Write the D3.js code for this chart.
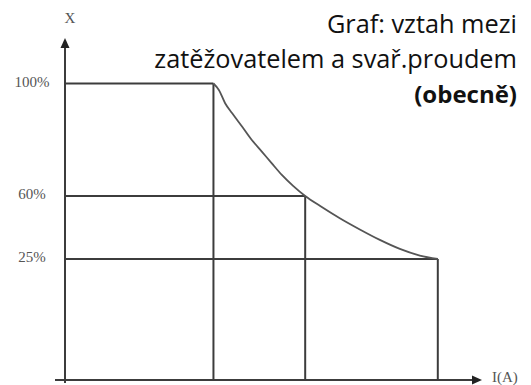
<!DOCTYPE html>
<html lang="cs">
<head>
    <meta charset="UTF-8">
    <title>Graf: vztah mezi zatěžovatelem a svař.proudem</title>
    <script src="https://d3js.org/d3.v7.min.js"></script>
    <style>
        body {
            margin: 0;
            background: #fff;
        }

        .title {
            font-family: "Open Sans", Lato, sans-serif;
            font-size: 25.3px;
            fill: #111;
            text-anchor: end;
        }

        .title.bold {
            font-weight: bold;
            font-size: 24px;
        }

        .tick-label, .axis-label {
            font-family: "Liberation Serif", "DejaVu Serif", serif;
            font-size: 15px;
            fill: #555;
        }

        .frame {
            fill: none;
            stroke: #3c3c3c;
            stroke-width: 2;
        }

        .curve {
            fill: none;
            stroke: #555;
            stroke-width: 1.8;
        }
    </style>
</head>
<body>
    <svg></svg>

    <script>
        // duty cycle levels (X) and their labels
        const dutyLevels = [100, 60, 25];
        const dutyLabels = ["100%", "60%", "25%"];
        // welding current belonging to each level (relative units, 0-100 = axis length)
        const currents = [35.6, 57.6, 89.4];

        // points along the curve X = f(I)
        const curveI = [35.6, 36.9, 38.4, 40.1, 42.5, 44.8, 47.2, 49.6, 52.0, 54.7, 57.6,
                        61.2, 66.0, 70.7, 75.5, 80.3, 85.1, 89.4];
        const curveX = [100, 97.7, 93.0, 89.4, 84.6, 79.9, 75.8, 71.6, 67.5, 63.6, 60,
                        54.4, 47.5, 41.4, 35.6, 30.6, 26.9, 25];

        const titleLines = ["Graf: vztah mezi", "zatěžovatelem a svař.proudem", "(obecně)"];
        const yAxisName = "X";
        const xAxisName = "I(A)";

        const width = 531, height = 385;

        const svg = d3.select("svg")
            .attr("width", width)
            .attr("height", height);

        // schematic chart: y is not evenly spaced, so a piecewise scale is used
        const x = d3.scaleLinear().domain([0, 100]).range([65, 482]);
        const y = d3.scaleLinear()
            .domain([0, 25, 60, 100, 120])
            .range([380, 259, 196, 83.5, 38]);

        // axes with arrow heads
        svg.append("line")
            .attr("class", "frame")
            .attr("x1", x(0)).attr("x2", x(0))
            .attr("y1", y(0) + 3).attr("y2", y(120) + 8);

        svg.append("line")
            .attr("class", "frame")
            .attr("x1", x(0) - 10).attr("x2", x(100) - 8)
            .attr("y1", y(0)).attr("y2", y(0));

        svg.append("path")
            .attr("d", `M${x(0)},${y(120)} L${x(0) - 4.5},${y(120) + 10} L${x(0) + 4.5},${y(120) + 10} Z`)
            .attr("fill", "#222");

        svg.append("path")
            .attr("d", `M${x(100)},${y(0)} L${x(100) - 10},${y(0) - 4.5} L${x(100) - 10},${y(0) + 4.5} Z`)
            .attr("fill", "#222");

        // horizontal guides from the axis to the curve
        svg.selectAll(".hguide")
            .data(dutyLevels)
            .enter().append("line")
            .attr("class", "frame hguide")
            .attr("x1", x(0))
            .attr("x2", (d, i) => x(currents[i]))
            .attr("y1", d => y(d))
            .attr("y2", d => y(d));

        // vertical guides from the curve down to the axis
        svg.selectAll(".vguide")
            .data(currents)
            .enter().append("line")
            .attr("class", "frame vguide")
            .attr("x1", d => x(d))
            .attr("x2", d => x(d))
            .attr("y1", (d, i) => y(dutyLevels[i]))
            .attr("y2", y(0));

        // the curve itself
        const curveData = curveI.map((d, i) => ({ I: d, X: curveX[i] }));
        svg.append("path")
            .datum(curveData)
            .attr("class", "curve")
            .attr("d", d3.line()
                .x(d => x(d.I))
                .y(d => y(d.X))
                .curve(d3.curveMonotoneX));

        // tick labels on the left
        svg.selectAll(".tick-label")
            .data(dutyLevels)
            .enter().append("text")
            .attr("class", "tick-label")
            .attr("x", 32)
            .attr("y", d => y(d))
            .attr("text-anchor", "middle")
            .attr("dominant-baseline", "middle")
            .text((d, i) => dutyLabels[i]);

        svg.append("text")
            .attr("class", "axis-label")
            .attr("x", x(0) + 5)
            .attr("y", 20)
            .attr("text-anchor", "middle")
            .attr("dominant-baseline", "middle")
            .text(yAxisName);

        svg.append("text")
            .attr("class", "axis-label")
            .attr("x", x(100) + 10)
            .attr("y", y(0) - 1)
            .attr("dominant-baseline", "middle")
            .text(xAxisName);

        // title, right aligned
        svg.selectAll(".title")
            .data(titleLines)
            .enter().append("text")
            .attr("class", (d, i) => i === 2 ? "title bold" : "title")
            .attr("x", 517)
            .attr("y", (d, i) => 33 + i * 35)
            .text(d => d);
    </script>
</body>
</html>
